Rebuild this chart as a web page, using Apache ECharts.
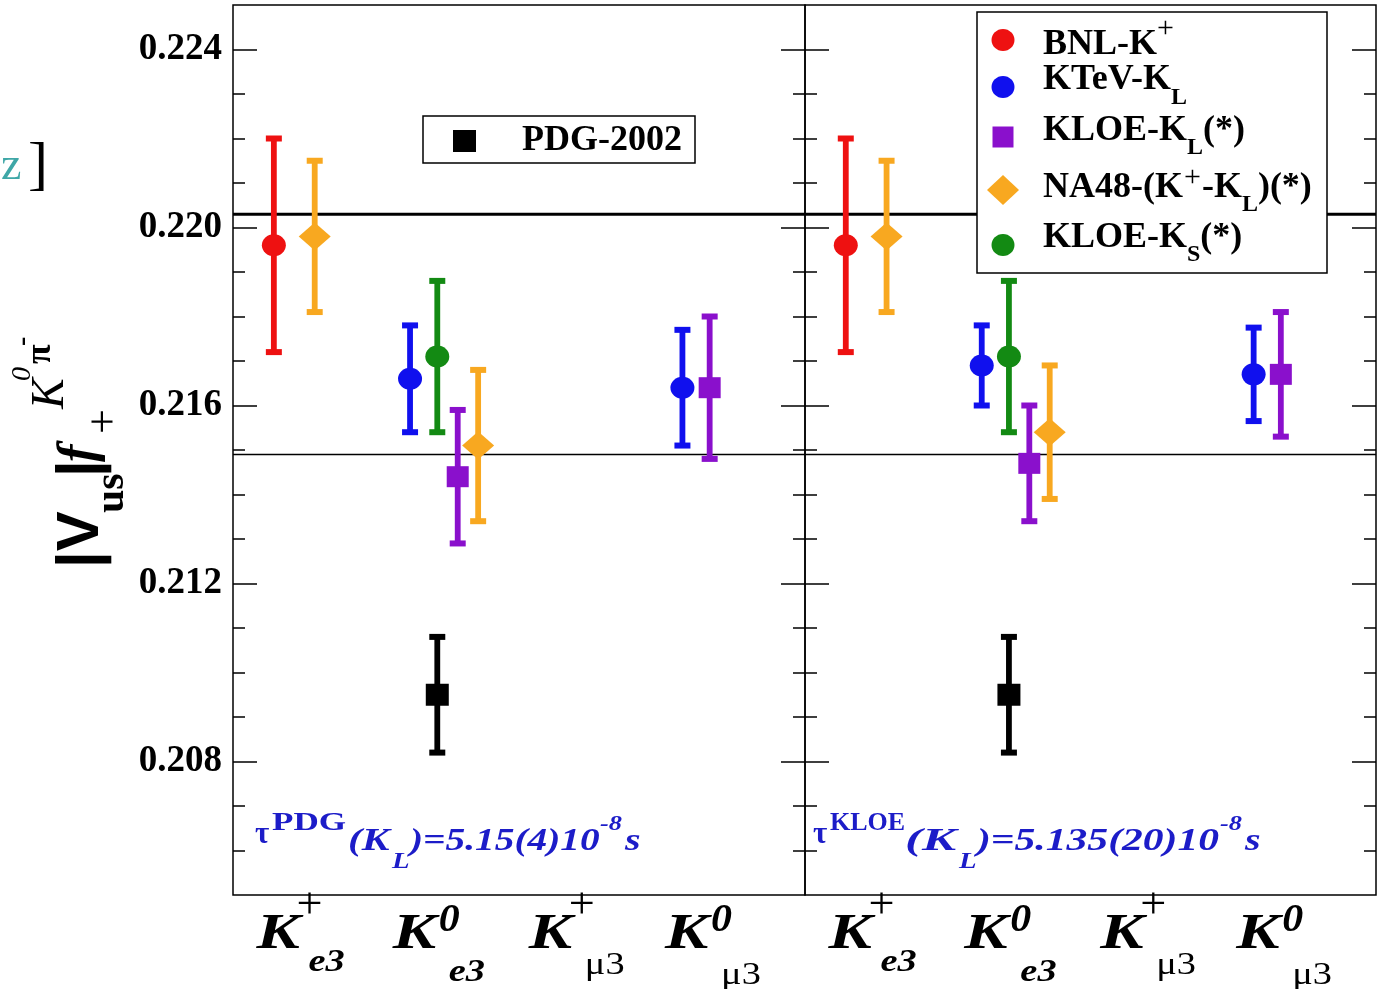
<!DOCTYPE html>
<html>
<head>
<meta charset="utf-8">
<script src="https://cdn.jsdelivr.net/npm/echarts@6/dist/echarts.min.js"></script>
<style>
  html, body { margin: 0; padding: 0; background: #ffffff; }
  #chart { width: 1381px; height: 989px; }
</style>
</head>
<body>
<div id="chart"></div>
<script>
// ---------------------------------------------------------------
// |Vus| f+(0) from semileptonic kaon decays, two K_L lifetime inputs
// ---------------------------------------------------------------

// Vertical axis ticks
const yMajorTicks = [0.208, 0.212, 0.216, 0.220, 0.224];
const yMinorTicks = [0.206, 0.207, 0.209, 0.210, 0.211, 0.213, 0.214, 0.215,
                     0.217, 0.218, 0.219, 0.221, 0.222, 0.223];

// Decay channels along the horizontal axis
const channelX   = [1, 2, 3, 4];
const channelSup = ['+', '0', '+', '0'];
const channelSub = ['e3', 'e3', 'μ3', 'μ3'];

// Measurements: [channel position, central value, error]
// Left panel: tau(K_L) from PDG
const bnlPDG     = [[0.9, 0.2196, 0.0024]];
const ktevPDG    = [[1.9, 0.2166, 0.0012], [3.9, 0.2164, 0.0013]];
const kloeLPDG   = [[2.25, 0.2144, 0.0015], [4.1, 0.2164, 0.0016]];
const na48PDG    = [[1.2, 0.2198, 0.0017], [2.4, 0.2151, 0.0017]];
const kloeSPDG   = [[2.1, 0.2171, 0.0017]];
const pdg2002PDG = [[2.1, 0.2095, 0.0013]];

// Right panel: tau(K_L) from KLOE
const bnlKLOE     = [[0.9, 0.2196, 0.0024]];
const ktevKLOE    = [[1.9, 0.2169, 0.0009], [3.9, 0.2167, 0.00105]];
const kloeLKLOE   = [[2.25, 0.2147, 0.0013], [4.1, 0.2167, 0.0014]];
const na48KLOE    = [[1.2, 0.2198, 0.0017], [2.4, 0.2154, 0.0015]];
const kloeSKLOE   = [[2.1, 0.2171, 0.0017]];
const pdg2002KLOE = [[2.1, 0.2095, 0.0013]];

// Band drawn across both panels
const bandLines = [0.2203, 0.2149];

// Lifetime captions
const lifetimeTags   = ['PDG', 'KLOE'];
const lifetimeValues = [')=5.15(4)10', ')=5.135(20)10'];

// ---------------------------------------------------------------
const SERIF = "'Liberation Serif', 'Times New Roman', serif";
const SANS  = "'Liberation Sans', Arial, sans-serif";

const experimentStyles = [
  { color: '#ee1111', symbol: 'circle',  size: [24, 22] },
  { color: '#1010ee', symbol: 'circle',  size: [24, 22] },
  { color: '#8a10cc', symbol: 'rect',    size: [22, 21] },
  { color: '#f8a820', symbol: 'diamond', size: [32, 28] },
  { color: '#138a13', symbol: 'circle',  size: [24, 22] },
  { color: '#000000', symbol: 'rect',    size: [23, 22] }
];
const panelSets = [
  [bnlPDG, ktevPDG, kloeLPDG, na48PDG, kloeSPDG, pdg2002PDG],
  [bnlKLOE, ktevKLOE, kloeLKLOE, na48KLOE, kloeSKLOE, pdg2002KLOE]
];
const lineWidths = [3, 1.5];

const Y_MIN = 0.205, Y_MAX = 0.225;

const grids = [
  { left: 233, right: 576, top: 5, bottom: 94, show: true, borderColor: '#000', borderWidth: 1.5, backgroundColor: 'transparent' },
  { left: 805, right: 5,   top: 5, bottom: 94, show: true, borderColor: '#000', borderWidth: 1.5, backgroundColor: 'transparent' }
];

const xAxes = grids.map((g, i) => ({
  type: 'value', gridIndex: i, min: 0.6, max: 4.8,
  axisLine: { show: false }, axisTick: { show: false },
  axisLabel: { show: false }, splitLine: { show: false }
}));

function yAxisDef(gridIndex, position, major, labels) {
  return {
    type: 'value', gridIndex, position, min: Y_MIN, max: Y_MAX,
    axisLine: { show: false }, splitLine: { show: false },
    axisTick: {
      show: true, inside: true, length: major ? 24 : 12,
      customValues: major ? yMajorTicks : yMinorTicks,
      lineStyle: { color: '#000', width: 1.5 }
    },
    axisLabel: labels ? {
      show: true, customValues: yMajorTicks, margin: 11,
      formatter: v => v.toFixed(3),
      fontFamily: SERIF, fontWeight: 'bold', fontSize: 37, color: '#000'
    } : { show: false }
  };
}
const yAxes = [];
[0, 1].forEach(g => {
  yAxes.push(yAxisDef(g, 'left', true, g === 0));
  yAxes.push(yAxisDef(g, 'left', false, false));
  yAxes.push(yAxisDef(g, 'right', true, false));
  yAxes.push(yAxisDef(g, 'right', false, false));
});

function errorBarRenderer(color) {
  return function (params, api) {
    const x = api.value(0), v = api.value(1), e = api.value(2);
    const hi = api.coord([x, v + e]);
    const lo = api.coord([x, v - e]);
    const half = 8, t = 6, w = 5.8;
    return {
      type: 'group',
      children: [
        { type: 'rect', shape: { x: hi[0] - w / 2, y: hi[1], width: w, height: lo[1] - hi[1] }, style: { fill: color } },
        { type: 'rect', shape: { x: hi[0] - half, y: hi[1] - t / 2, width: 2 * half, height: t }, style: { fill: color } },
        { type: 'rect', shape: { x: lo[0] - half, y: lo[1] - t / 2, width: 2 * half, height: t }, style: { fill: color } }
      ]
    };
  };
}

function bandRenderer(params, api) {
  const v = api.value(1);
  const p = api.coord([0.6, v]);
  const cs = params.coordSys;
  return {
    type: 'line',
    shape: { x1: cs.x, y1: p[1], x2: cs.x + cs.width, y2: p[1] },
    style: { stroke: '#000', lineWidth: lineWidths[params.dataIndex] }
  };
}

const series = [];
panelSets.forEach((sets, p) => {
  const yIdx = p * 4;
  series.push({
    type: 'custom', xAxisIndex: p, yAxisIndex: yIdx, silent: true, z: 1,
    data: bandLines.map(v => [0.6, v]), encode: { x: 0, y: 1 },
    renderItem: bandRenderer
  });
  sets.forEach((set, k) => {
    const st = experimentStyles[k];
    series.push({
      type: 'custom', xAxisIndex: p, yAxisIndex: yIdx, silent: true, z: 2,
      data: set, encode: { x: 0, y: 1 },
      renderItem: errorBarRenderer(st.color)
    });
    series.push({
      type: 'scatter', xAxisIndex: p, yAxisIndex: yIdx, silent: true, z: 3,
      data: set.map(d => [d[0], d[1]]),
      symbol: st.symbol, symbolSize: st.size,
      itemStyle: { color: st.color, opacity: 1 }
    });
  });
});

const chart = echarts.init(document.getElementById('chart'));
chart.setOption({
  animation: false,
  backgroundColor: '#ffffff',
  grid: grids,
  xAxis: xAxes,
  yAxis: yAxes,
  series
});

// ---------------------------------------------------------------
// Text with sub/superscripts
const mctx = document.createElement('canvas').getContext('2d');
function fontOf(p) {
  return (p.i ? 'italic ' : '') + (p.b ? 'bold ' : '') + p.size + 'px ' + (p.fam || SERIF);
}
function textRun(x0, y0, pieces, color, extra) {
  extra = extra || {};
  const z = extra.z || 60;
  let cursor = 0;
  const children = pieces.map(p => {
    const font = fontOf(p);
    mctx.font = font;
    const sx = p.sx || 1;
    const x = p.at != null ? p.at : cursor + (p.dx || 0);
    cursor = x + mctx.measureText(p.t).width * sx;
    return {
      type: 'text', x, y: -(p.rise || 0) - 0.34 * p.size, scaleX: sx, z,
      style: { text: p.t, font, fill: p.color || color, align: 'left', verticalAlign: 'middle' }
    };
  });
  return Object.assign({ type: 'group', x: x0, y: y0, silent: true, children }, extra);
}

const graphics = [];

// Axis title  |Vus| f+ (K0 pi-)
graphics.push(textRun(102, 568, [
  { t: '|V', at: 0,   size: 60, b: true, fam: SANS },
  { t: 'us', at: 55,  size: 42, b: true, rise: -24 },
  { t: '|',  at: 91,  size: 60, b: true, fam: SANS },
  { t: 'f',  at: 106, size: 52, b: true, i: true, rise: 4 },
  { t: '+',  at: 134, size: 44, rise: -18 },
  { t: 'K',  at: 159, size: 46, i: true, rise: 35 },
  { t: '0',  at: 187, size: 28, i: true, rise: 70 },
  { t: 'π',  at: 204, size: 36, b: true, rise: 49 },
  { t: '-',  at: 222, size: 28, b: true, rise: 70 }
], '#000', { rotation: Math.PI / 2 }));

// Stray caption fragment at the left edge
graphics.push(textRun(1, 183, [
  { t: 'z', at: 0, size: 46, color: '#3fa7a7' },
  { t: ']', at: 27, size: 60, rise: -5 }
], '#000'));

// Channel labels under each panel
const subDrop = [22, 32, 24, 34];
const supAt = [40, 46, 40, 46];
const subAt = [52, 56, 56, 56];
[0, 1].forEach(p => {
  channelX.forEach((cx, i) => {
    const px = chart.convertToPixel({ xAxisIndex: p }, cx) - 31;
    const isZero = channelSup[i] === '0';
    const isMu = channelSub[i].charAt(0) === 'μ';
    graphics.push(textRun(px, 952, [
      { t: 'K', at: 0, size: 50, b: true, i: true, sx: 1.3 },
      isZero
        ? { t: channelSup[i], at: supAt[i], size: 40, b: true, i: true, sx: 1.05, rise: 18 }
        : { t: channelSup[i], at: supAt[i], size: 44, sx: 1.05, rise: 31 },
      isMu
        ? { t: channelSub[i], at: subAt[i], size: 32, sx: 1.2, rise: -subDrop[i] }
        : { t: channelSub[i], at: subAt[i], size: 32, b: true, i: true, sx: 1.2, rise: -subDrop[i] }
    ], '#000'));
  });
});

// Lifetime captions
const BLUE = '#1c1cc8';
const captionStarts = [255, 813];
const tagScale = [1.35, 1.0];
const parenStarts = [348, 905];
const parenScale = [1.3, 1.6];
const valueStarts = [410, 977];
const valueScale = [1.23, 1.3];
const expStarts = [600, 1220];
lifetimeTags.forEach((tag, p) => {
  const x0 = captionStarts[p];
  graphics.push(textRun(x0, 853, [
    { t: 'τ', at: 0, size: 31, b: true, rise: 7 },
    { t: tag, at: 17, size: 26, b: true, sx: tagScale[p], rise: 21 },
    { t: '(K', at: parenStarts[p] - x0, size: 32, b: true, i: true, sx: parenScale[p] },
    { t: 'L', at: valueStarts[p] - x0 - 18, size: 24, b: true, i: true, sx: 1.2, rise: -17 },
    { t: lifetimeValues[p], at: valueStarts[p] - x0, size: 32, b: true, i: true, sx: valueScale[p] },
    { t: '-8', at: expStarts[p] - x0, size: 22, b: true, i: true, sx: 1.2, rise: 21 },
    { t: 's', dx: 3, size: 32, b: true, i: true, sx: 1.25 }
  ], BLUE));
});

// PDG-2002 key
graphics.push({ type: 'rect', silent: true, z: 50, shape: { x: 423, y: 116, width: 272, height: 47 },
  style: { fill: '#fff', stroke: '#000', lineWidth: 1.5 } });
graphics.push({ type: 'rect', silent: true, z: 51, shape: { x: 453, y: 130, width: 23, height: 22 },
  style: { fill: '#000' } });
graphics.push(textRun(522, 153, [{ t: 'PDG-2002', at: 0, size: 36, b: true }], '#000'));

// Experiments key
graphics.push({ type: 'rect', silent: true, z: 50, shape: { x: 977, y: 12, width: 350, height: 261 },
  style: { fill: '#fff', stroke: '#000', lineWidth: 1.5 } });
const keyRows = [40, 87, 137, 190, 245];
const keyBase = [57, 92, 143, 200, 250];
const keyText = [
  [{ t: 'BNL-K', size: 36, b: true }, { t: '+', size: 30, rise: 18 }],
  [{ t: 'KTeV-K', size: 36, b: true }, { t: 'L', size: 24, b: true, rise: -14 }],
  [{ t: 'KLOE-K', size: 36, b: true }, { t: 'L', size: 24, b: true, rise: -13 }, { t: '(*)', size: 36, b: true }],
  [{ t: 'NA48-(K', size: 36, b: true }, { t: '+', dx: 1, size: 30, rise: 12 }, { t: '-K', dx: 1, size: 36, b: true },
   { t: 'L', size: 24, b: true, rise: -13 }, { t: ')(*)', size: 36, b: true }],
  [{ t: 'KLOE-K', size: 36, b: true }, { t: 'S', size: 24, b: true, rise: -13 }, { t: '(*)', size: 36, b: true }]
];
experimentStyles.slice(0, 5).forEach((st, k) => {
  const cy = keyRows[k];
  if (st.symbol === 'circle') {
    graphics.push({ type: 'ellipse', silent: true, z: 51, shape: { cx: 1003, cy, rx: 11.5, ry: 11 }, style: { fill: st.color } });
  } else if (st.symbol === 'rect') {
    graphics.push({ type: 'rect', silent: true, z: 51, shape: { x: 992.5, y: cy - 10.5, width: 21, height: 21 }, style: { fill: st.color } });
  } else {
    graphics.push({ type: 'polygon', silent: true, z: 51,
      shape: { points: [[1003, cy - 15], [1019, cy], [1003, cy + 15], [987, cy]] }, style: { fill: st.color } });
  }
  graphics.push(textRun(1043, keyBase[k], keyText[k], '#000'));
});

chart.setOption({ graphic: { elements: graphics } });
</script>
</body>
</html>
